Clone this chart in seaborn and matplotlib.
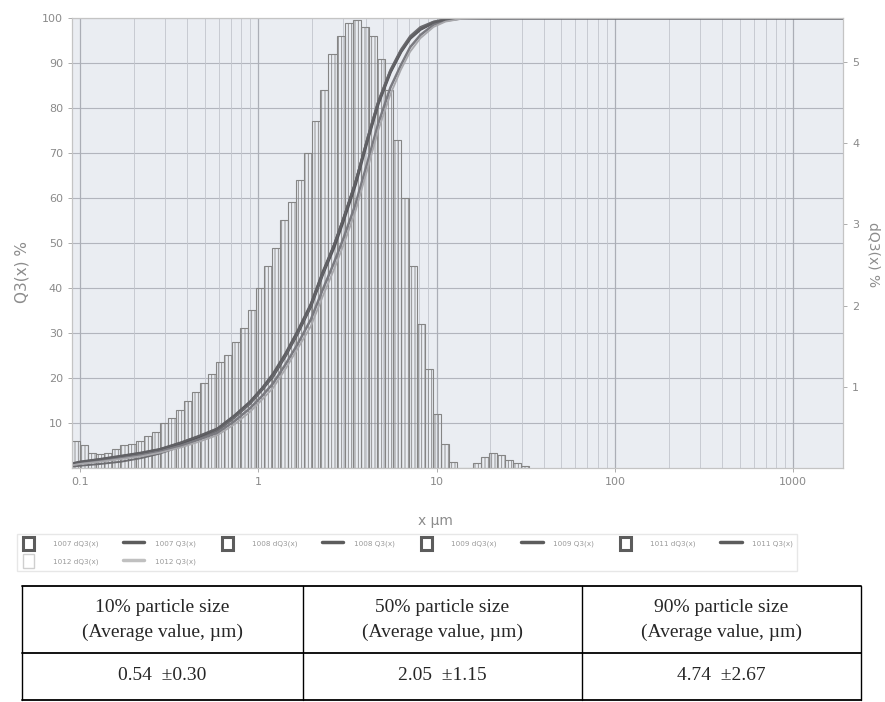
import numpy as np
import pandas as pd
import matplotlib
matplotlib.use("Agg")
import matplotlib.pyplot as plt
from matplotlib.patches import Rectangle
from matplotlib.lines import Line2D
from matplotlib.legend_handler import HandlerPatch
from matplotlib.ticker import FixedLocator, LogLocator, NullFormatter
import seaborn as sns

# density histogram (dQ3, right axis), class edges in um
bin_edges_um = [0.0902, 0.1, 0.1109, 0.1230, 0.1364, 0.1513, 0.1678, 0.1861, 0.2064, 0.2289,
                0.2539, 0.2816, 0.3123, 0.3464, 0.3842, 0.4261, 0.4726, 0.5242, 0.5813, 0.6447,
                0.7150, 0.7930, 0.8795, 0.9755, 1.081, 1.199, 1.330, 1.475, 1.636, 1.814,
                2.012, 2.231, 2.475, 2.745, 3.044, 3.376, 3.744, 4.150, 4.603, 5.105,
                5.661, 6.279, 6.963, 7.72, 8.56, 9.50, 10.53, 11.68, 12.95, 14.36,
                15.93, 17.67, 19.59, 21.73, 24.10, 26.73, 29.64, 32.87]
dq3 = [0.33, 0.28, 0.19, 0.17, 0.19, 0.23, 0.28, 0.30, 0.33, 0.39,
       0.44, 0.55, 0.61, 0.72, 0.83, 0.94, 1.05, 1.16, 1.30, 1.39,
       1.55, 1.72, 1.94, 2.22, 2.49, 2.71, 3.05, 3.27, 3.55, 3.88,
       4.27, 4.65, 5.10, 5.32, 5.48, 5.51, 5.43, 5.32, 5.04, 4.65,
       4.04, 3.32, 2.49, 1.77, 1.22, 0.66, 0.30, 0.07,
       0.0, 0.0,
       0.06, 0.14, 0.18, 0.16, 0.10, 0.06, 0.02]

# cumulative curves (Q3, left axis)
samples = ["1007", "1008", "1009", "1011", "1012"]
q3_x_um = [0.09, 0.1, 0.13, 0.17, 0.22, 0.28, 0.37, 0.47, 0.59, 0.74, 0.9, 1.05, 1.21, 1.42,
           1.66, 1.97, 2.29, 2.65, 3.0, 3.5, 4.1, 4.7, 5.5, 6.3, 7.1, 8.1, 9.6, 11.2, 13.7, 20, 1900]
q3_1007 = [0.8, 1.2, 1.8, 2.5, 3.2, 4.0, 5.5, 7.0, 8.5, 11.5, 14.5, 17.5, 20.5, 25,
           30, 36, 43, 49, 55, 63, 73, 81, 88, 92.5, 95.5, 97.5, 99, 99.6, 100, 100, 100]
q3_1008 = [0.3, 0.5, 0.9, 1.4, 2.2, 3.2, 4.8, 6.5, 8.3, 11.3, 14.3, 17.5, 20.5, 25,
           30, 36, 43, 49.5, 55.5, 63.5, 73.5, 81.5, 88.5, 93, 96, 98, 99.2, 99.7, 100, 100, 100]
q3_1009 = [0.7, 1.1, 1.6, 2.2, 2.9, 3.7, 5.0, 6.4, 7.8, 10.5, 13.3, 16.0, 18.8, 23,
           27.5, 33, 39.5, 45.5, 51, 58.5, 68, 76.5, 84.5, 89.5, 93.5, 96.2, 98.5, 99.4, 99.9, 100, 100]
q3_1011 = [1.0, 1.4, 2.0, 2.7, 3.4, 4.2, 5.7, 7.2, 8.8, 11.8, 14.8, 17.8, 21, 25.5,
           30.5, 36.5, 43.5, 49.5, 55.5, 63.5, 73, 81, 88, 92.5, 95.5, 97.5, 99, 99.6, 100, 100, 100]
q3_1012 = [0.6, 0.9, 1.4, 2.0, 2.6, 3.4, 4.6, 5.9, 7.3, 9.8, 12.5, 15.2, 17.8, 22,
           26.5, 31.5, 38, 44, 49.5, 57, 66.5, 75, 83, 88.5, 92.5, 95.5, 98, 99.2, 99.8, 100, 100]

x_ticks = [0.1, 1, 10, 100, 1000]
x_tick_labels = ["0.1", "1", "10", "100", "1000"]
left_ticks = [10, 20, 30, 40, 50, 60, 70, 80, 90, 100]
right_ticks = [1, 2, 3, 4, 5]

table_headers = ["10% particle size\n(Average value, µm)",
                 "50% particle size\n(Average value, µm)",
                 "90% particle size\n(Average value, µm)"]
table_means = [0.54, 2.05, 4.74]
table_sd = [0.30, 1.15, 2.67]

sns.set_theme(style="ticks")
plt.rcParams["font.family"] = ["DejaVu Sans"]
plt.rcParams["hatch.linewidth"] = 0.6
plt.rcParams["hatch.color"] = "#8f8f8f"

W, H = 885, 702
fig = plt.figure(figsize=(W / 100, H / 100), dpi=100)
ax2 = fig.add_axes([72 / W, 1 - 468 / H, (843 - 72) / W, (468 - 18) / H])
ax2.set_facecolor("#eaedf2")
ax2.set_xscale("log")
ax2.yaxis.tick_right()
ax2.yaxis.set_label_position("right")
ax = fig.add_axes(ax2.get_position(), sharex=ax2)
ax.patch.set_visible(False)

# grid drawn first, underneath everything
for v in left_ticks:
    ax2.axhline(v * 5.54 / 100, color="#b2b5bd", linewidth=0.8, zorder=0)

edges = np.array(bin_edges_um)
mids = np.sqrt(edges[:-1] * edges[1:])
sns.histplot(x=mids, weights=dq3, bins=list(np.log10(edges)), log_scale=True,
             element="bars", fill=False, color="#858585", linewidth=0.8, ax=ax2)
for p in ax2.patches:
    p.set_hatch("|||||")
ax2.set_ylim(0, 5.54)
ax2.set_ylabel("")
ax2.set_xlabel("")

curve_df = pd.DataFrame({
    "x": q3_x_um * 5,
    "Q3": q3_1007 + q3_1008 + q3_1009 + q3_1011 + q3_1012,
    "sample": sum([[s] * len(q3_x_um) for s in samples], []),
})
curve_colors = {"1007": "#55555a", "1008": "#6c6c70", "1009": "#7a7a80",
                "1011": "#606064", "1012": "#a8a8ac"}
curve_widths = {"1007": 2.3, "1008": 1.4, "1009": 1.8, "1011": 1.6, "1012": 1.3}
for s in samples:
    sns.lineplot(data=curve_df[curve_df["sample"] == s], x="x", y="Q3",
                 color=curve_colors[s], linewidth=curve_widths[s], ax=ax)

ax.set_xlim(0.0902, 1900)
ax.set_ylim(0, 100)
ax.xaxis.set_major_locator(FixedLocator(x_ticks))
ax.set_xticklabels(x_tick_labels)
ax.xaxis.set_minor_locator(LogLocator(base=10, subs=np.arange(2, 10)))
ax.xaxis.set_minor_formatter(NullFormatter())
ax.set_yticks(left_ticks)
ax.set_yticklabels([str(v) for v in left_ticks])
ax2.set_yticks(right_ticks)
ax2.set_yticklabels([str(v) for v in right_ticks])
ax.set_xlabel("")
ax.set_ylabel("")
ax2.tick_params(axis="x", which="both", labelbottom=False, length=0)

for xv in ax.xaxis.get_minorticklocs():
    if 0.0902 < xv < 1900:
        ax2.axvline(xv, color="#c2c5cc", linewidth=0.6, zorder=0)
for xv in x_ticks:
    ax2.axvline(xv, color="#abaeb6", linewidth=0.9, zorder=0)

for a in (ax, ax2):
    for sp in a.spines.values():
        sp.set_color("#c4c4c4")
        sp.set_linewidth(0.8)
    a.tick_params(axis="y", which="both", colors="#a0a0a0", labelcolor="#8a8a8a",
                  labelsize=8, length=3, width=0.6)
ax.tick_params(axis="x", which="major", colors="#a0a0a0", labelcolor="#8a8a8a",
               labelsize=8, length=3, width=0.6)
ax.tick_params(axis="x", which="minor", length=0)

fig.text(22 / W, 1 - 272 / H, "Q3(x) %", rotation=90, ha="center", va="center",
         fontsize=11, color="#8c8c8c")
fig.text(873 / W, 1 - 255 / H, "dQ3(x) %", rotation=270, ha="center", va="center",
         fontsize=10, color="#8c8c8c")
fig.text(435 / W, 1 - 521 / H, "x µm", ha="center", va="center", fontsize=10,
         color="#8c8c8c")


# legend: narrow open boxes for the dQ3 entries, short thick lines for Q3
def narrow_box(legend, orig_handle, xdescent, ydescent, width, height, fontsize):
    return Rectangle((width * 0.1 - xdescent, -ydescent - 1), width * 0.5, height + 2)


handles, labels = [], []
for s in samples:
    light = s == "1012"
    handles.append(Rectangle((0, 0), 1, 1, fill=False,
                             edgecolor="#cfcfcf" if light else "#5c5c5c",
                             linewidth=1.0 if light else 2.2))
    labels.append(s + " dQ3(x)")
    handles.append(Line2D([], [], color="#c0c0c0" if light else "#5c5c5c", linewidth=2.5))
    labels.append(s + " Q3(x)")
# first row holds items 0-7, second row items 8-9 (legend fills column-wise)
order = [0, 8, 1, 9, 2, 3, 4, 5, 6, 7]
leg = fig.legend([handles[i] for i in order], [labels[i] for i in order], ncol=8,
                 loc="upper left", bbox_to_anchor=(13 / W, 1 - 530 / H), fontsize=5.2,
                 frameon=True, fancybox=False, edgecolor="#e2e2e2",
                 handlelength=3.0, handleheight=2.0, columnspacing=3.4,
                 handletextpad=1.4, borderpad=0.6, labelspacing=0.9,
                 handler_map={Rectangle: HandlerPatch(patch_func=narrow_box)})
for t in leg.get_texts():
    t.set_color("#9a9a9a")

# table under the chart
serif = ["Liberation Serif", "DejaVu Serif"]
col_x = [22, 303, 582, 861]
row_y = [586, 653, 700]
for y in row_y:
    fig.add_artist(Line2D([col_x[0] / W, col_x[-1] / W], [1 - y / H, 1 - y / H],
                          transform=fig.transFigure, color="black", linewidth=1.3))
for x in col_x:
    fig.add_artist(Line2D([x / W, x / W], [1 - row_y[0] / H, 1 - row_y[-1] / H],
                          transform=fig.transFigure, color="black", linewidth=1.0))
for i in range(3):
    cx = (col_x[i] + col_x[i + 1]) / 2 / W
    l1, l2 = table_headers[i].split("\n")
    fig.text(cx, 1 - 607 / H, l1, ha="center", va="center", fontsize=14, family=serif)
    fig.text(cx, 1 - 632 / H, l2, ha="center", va="center", fontsize=14, family=serif)
    fig.text(cx, 1 - 676 / H, f"{table_means[i]:.2f}  ±{table_sd[i]:.2f}",
             ha="center", va="center", fontsize=14, family=serif)

fig.savefig("out.png", dpi=100)
